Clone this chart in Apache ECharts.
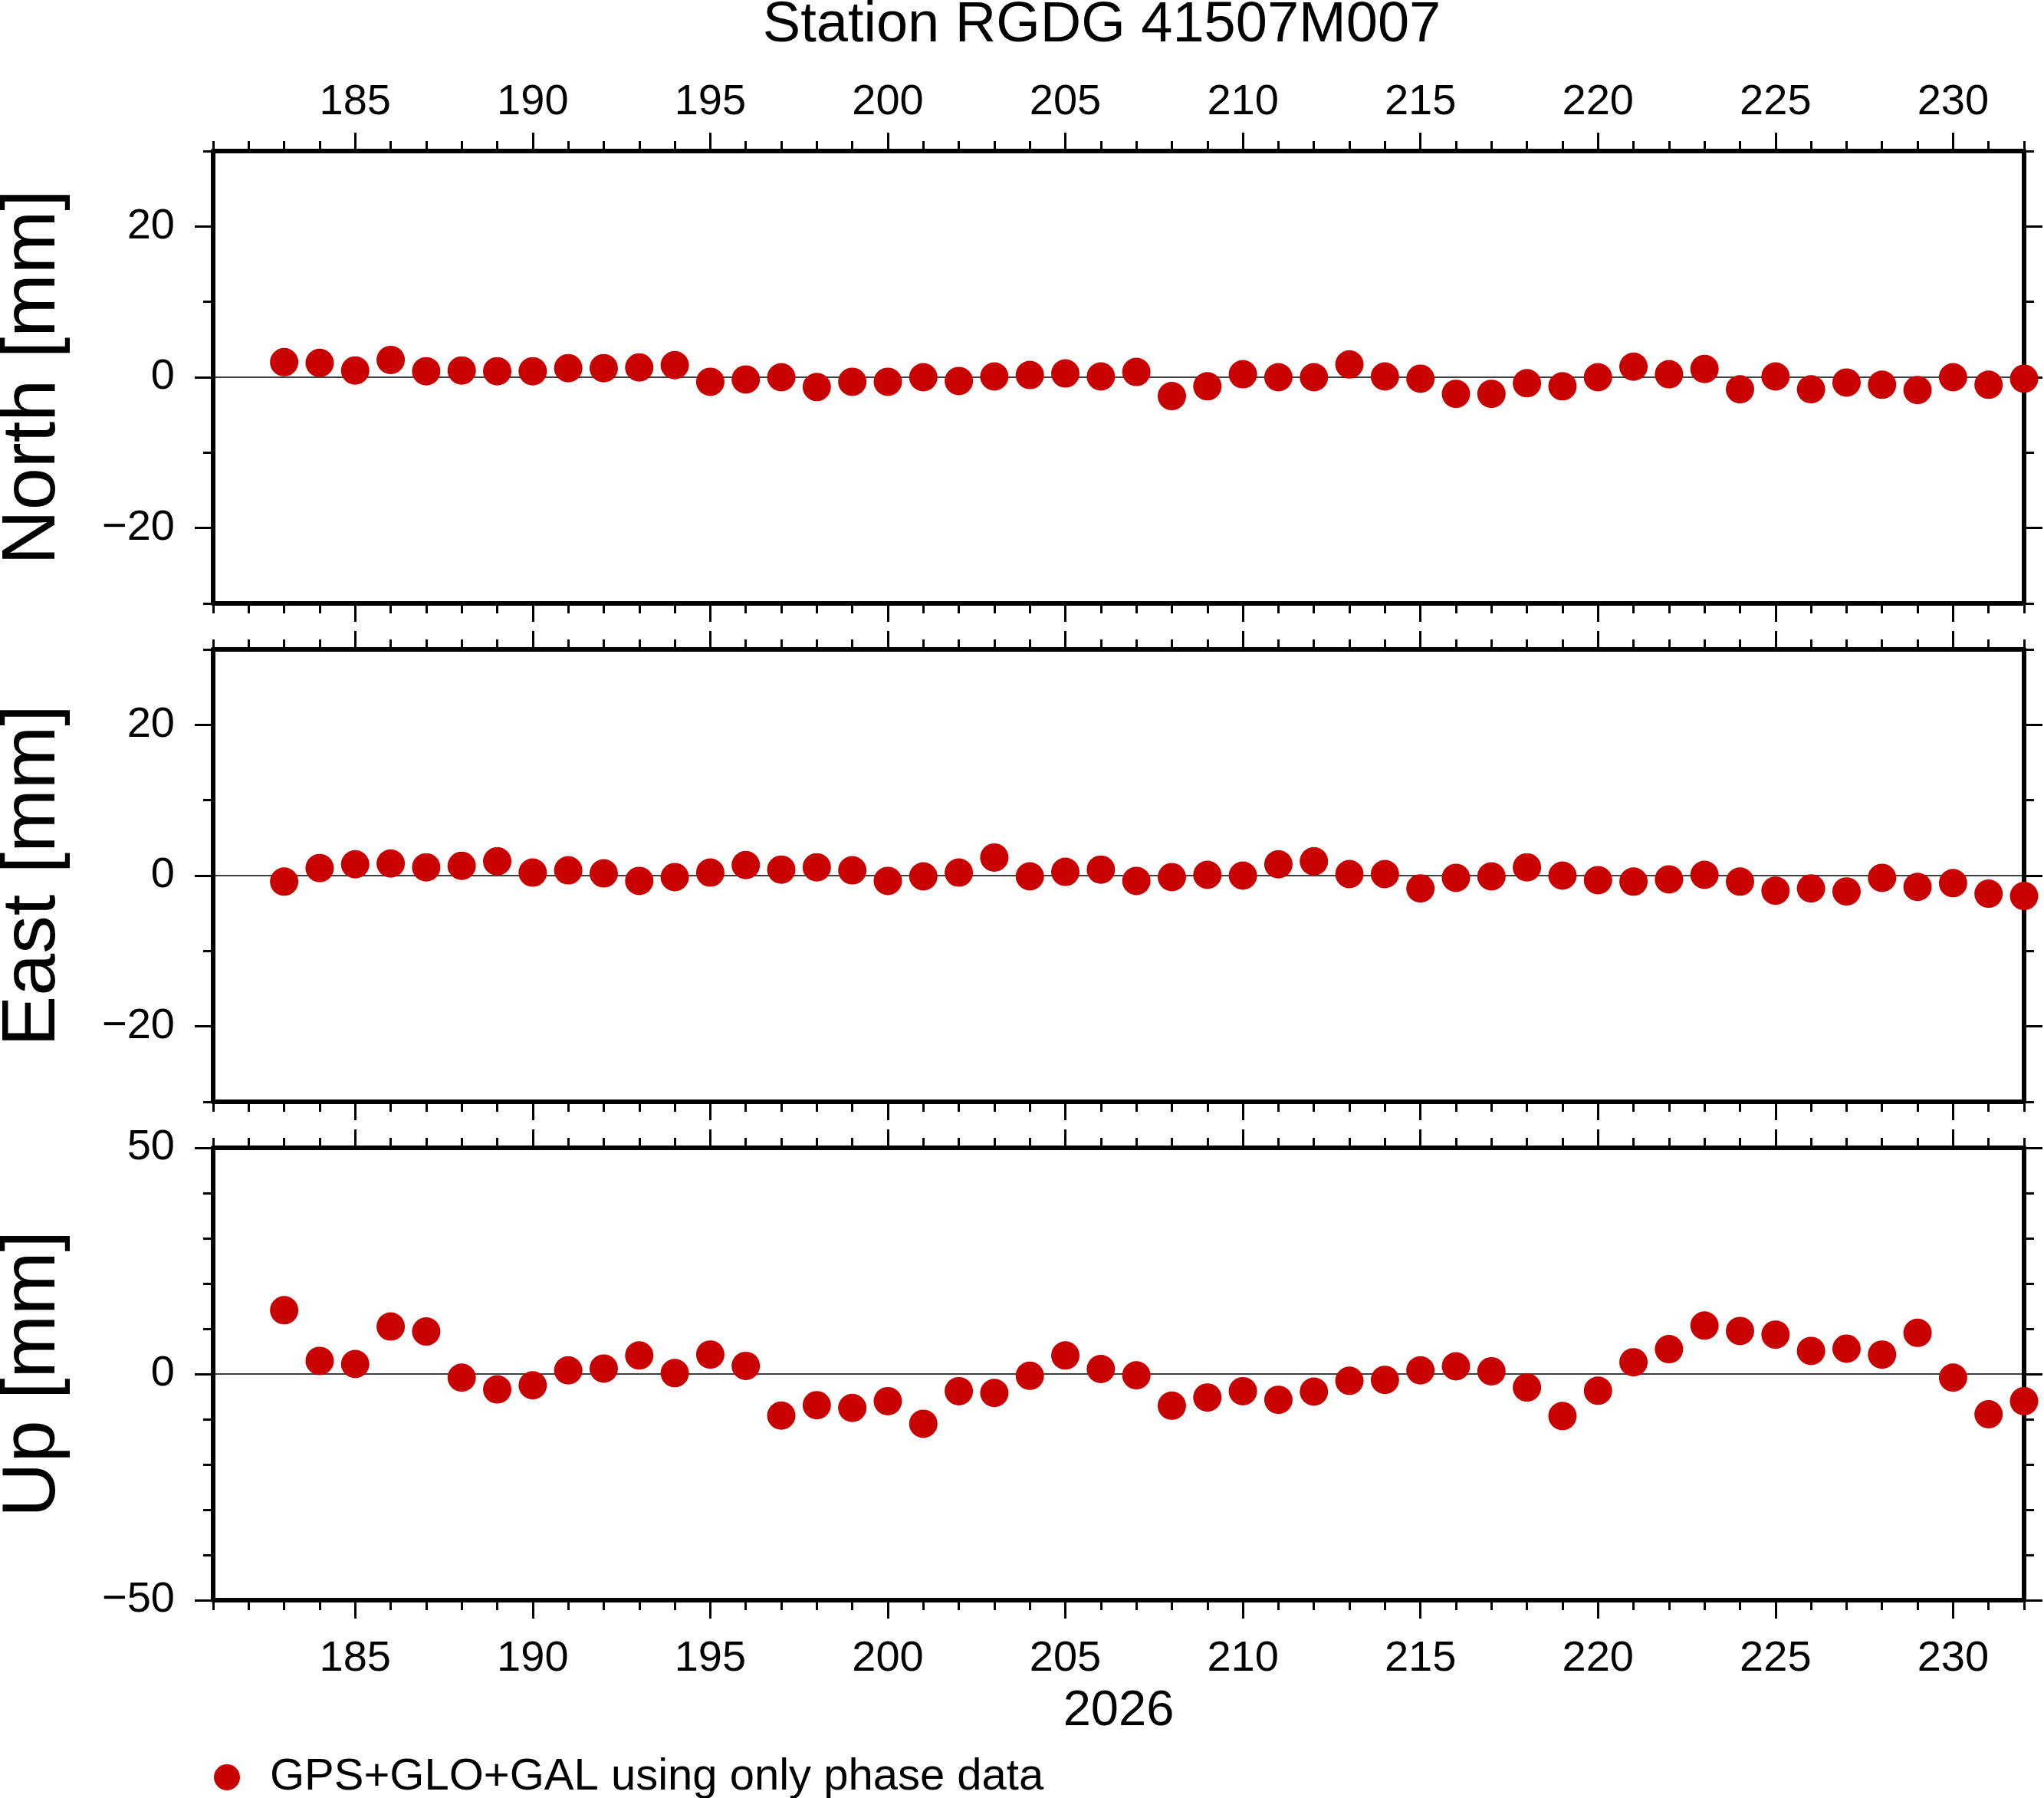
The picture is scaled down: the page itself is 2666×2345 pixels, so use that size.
<!DOCTYPE html>
<html>
<head>
<meta charset="utf-8">
<title>Station RGDG 41507M007</title>
<script src="https://cdn.jsdelivr.net/npm/echarts@6/dist/echarts.min.js"></script>
<style>
  html, body { margin: 0; padding: 0; background: #fff; }
  #chart { width: 2666px; height: 2345px; }
</style>
</head>
<body>
<div id="chart"></div>
<script>
// day of year 2026
const days = [183, 184, 185, 186, 187, 188, 189, 190, 191, 192,
  193, 194, 195, 196, 197, 198, 199, 200, 201, 202,
  203, 204, 205, 206, 207, 208, 209, 210, 211, 212,
  213, 214, 215, 216, 217, 218, 219, 220, 221, 222,
  223, 224, 225, 226, 227, 228, 229, 230, 231, 232];

const north = [2.0, 1.9, 0.9, 2.3, 0.8, 0.9, 0.8, 0.8, 1.2, 1.2,
  1.3, 1.6, -0.6, -0.3, 0.0, -1.3, -0.6, -0.6, 0.0, -0.5,
  0.1, 0.3, 0.5, 0.1, 0.7, -2.5, -1.2, 0.4, 0.0, 0.0,
  1.7, 0.1, -0.2, -2.2, -2.2, -0.8, -1.2, 0.0, 1.4, 0.4,
  1.1, -1.6, 0.1, -1.6, -0.7, -1.0, -1.7, 0.0, -1.0, -0.2];

const east = [-0.8, 1.0, 1.5, 1.6, 1.1, 1.3, 1.9, 0.4, 0.7, 0.3,
  -0.7, -0.2, 0.4, 1.4, 0.8, 1.1, 0.7, -0.7, -0.1, 0.4,
  2.4, -0.1, 0.5, 0.8, -0.7, -0.2, 0.1, 0.0, 1.5, 1.9,
  0.2, 0.2, -1.7, -0.3, -0.1, 1.1, 0.0, -0.6, -0.8, -0.5,
  0.1, -0.8, -2.0, -1.7, -2.1, -0.3, -1.5, -1.0, -2.4, -2.7];

const up = [14.1, 2.9, 2.2, 10.5, 9.4, -0.8, -3.4, -2.5, 0.8, 1.2,
  4.1, 0.2, 4.3, 1.8, -9.2, -6.9, -7.5, -6.0, -11.0, -3.8,
  -4.2, -0.4, 4.1, 1.1, -0.3, -7.0, -5.2, -3.8, -5.7, -3.9,
  -1.5, -1.3, 0.8, 1.7, 0.6, -3.0, -9.3, -3.7, 2.6, 5.5,
  10.7, 9.5, 8.7, 5.1, 5.6, 4.3, 9.1, -0.8, -8.9, -6.0];

const dayTicks = [185, 190, 195, 200, 205, 210, 215, 220, 225, 230];
const panelNames = ['North [mm]', 'East [mm]', 'Up [mm]'];
const panelMin = [-30, -30, -50];
const panelMax = [30, 30, 50];
const panelLabels = [[-20, 0, 20], [-20, 0, 20], [-50, 0, 50]];
const panelValues = [north, east, up];
const seriesName = 'GPS+GLO+GAL using only phase data';
const titleText = 'Station RGDG 41507M007';
const yearText = '2026';

const FONT = 'Liberation Sans';
const gridTops = [197, 847, 1497];
const minus = v => String(v).replace('-', '\u2212');

const myChart = echarts.init(document.getElementById('chart'));

const grid = gridTops.map(t => ({
  left: 278, top: t, width: 2362, height: 590,
  outerBoundsMode: 'none', containLabel: false
}));

const xAxis = [];
const yAxis = [];
const series = [];

gridTops.forEach((t, g) => {
  // x axes: bottom minor, bottom major, top minor, top major
  ['bottom', 'top'].forEach(pos => {
    const showLabels = (pos === 'top' && g === 0) || (pos === 'bottom' && g === 2);
    xAxis.push({
      type: 'value', gridIndex: g, position: pos,
      min: 181, max: 232, interval: 1,
      axisLine: { show: true, onZero: false, lineStyle: { color: '#000', width: 6 } },
      axisTick: { show: true, length: 13, lineStyle: { color: '#000', width: 3 } },
      axisLabel: { show: false },
      splitLine: { show: false }
    });
    const major = {
      type: 'value', gridIndex: g, position: pos,
      min: 181, max: 232, interval: 1,
      axisLine: { show: false, onZero: false },
      axisTick: { show: true, length: 24, customValues: dayTicks, lineStyle: { color: '#000', width: 3 } },
      axisLabel: {
        show: showLabels, customValues: dayTicks,
        margin: pos === 'top' ? 35 : 49,
        fontSize: 56, fontFamily: FONT, color: '#000'
      },
      splitLine: { show: false }
    };
    if (g === 2 && pos === 'bottom') {
      major.name = yearText;
      major.nameLocation = 'middle';
      major.nameGap = 113;
      major.nameTextStyle = { fontSize: 65, fontFamily: FONT, color: '#000' };
    }
    xAxis.push(major);
  });

  // y axes: left minor, left major, right minor, right major
  ['left', 'right'].forEach(pos => {
    yAxis.push({
      type: 'value', gridIndex: g, position: pos,
      min: panelMin[g], max: panelMax[g], interval: 10,
      axisLine: { show: true, onZero: false, lineStyle: { color: '#000', width: 6 } },
      axisTick: { show: true, length: 13, lineStyle: { color: '#000', width: 3 } },
      axisLabel: { show: false },
      splitLine: { show: false }
    });
    const major = {
      type: 'value', gridIndex: g, position: pos,
      min: panelMin[g], max: panelMax[g], interval: 10,
      axisLine: { show: false, onZero: false },
      axisTick: { show: true, length: 24, customValues: panelLabels[g], lineStyle: { color: '#000', width: 3 } },
      axisLabel: {
        show: pos === 'left', customValues: panelLabels[g], margin: 50,
        fontSize: 56, fontFamily: FONT, color: '#000', formatter: minus
      },
      splitLine: { show: false }
    };
    if (pos === 'left') {
      major.name = panelNames[g];
      major.nameLocation = 'middle';
      major.nameRotate = 90;
      major.nameGap = 185;
      major.nameTextStyle = { fontSize: 99, fontFamily: FONT, color: '#000' };
    }
    yAxis.push(major);
  });

  series.push({
    name: seriesName,
    type: 'scatter',
    xAxisIndex: g * 4,
    yAxisIndex: g * 4,
    symbol: 'circle',
    symbolSize: 37,
    itemStyle: { color: '#c80000', opacity: 1 },
    data: days.map((d, i) => [d, panelValues[g][i]]),
    markLine: {
      silent: true, z: 1, symbol: ['none', 'none'],
      label: { show: false },
      lineStyle: { color: '#000', width: 1.5, type: 'solid', opacity: 1 },
      emphasis: { disabled: true },
      data: [{ yAxis: 0 }]
    }
  });
});

myChart.setOption({
  animation: false,
  backgroundColor: '#fff',
  title: {
    text: titleText, left: 1437, top: -3, padding: 0, textAlign: 'center',
    textStyle: { fontSize: 74, fontWeight: 'normal', fontFamily: FONT, color: '#000' }
  },
  legend: {
    left: 279, top: 2289, padding: 0, orient: 'horizontal',
    icon: 'circle', itemWidth: 34, itemHeight: 34,
    textStyle: { fontSize: 58, fontFamily: FONT, color: '#000', padding: [0, 0, 0, 34] },
    data: [seriesName]
  },
  grid,
  xAxis,
  yAxis,
  series
});
</script>
</body>
</html>
